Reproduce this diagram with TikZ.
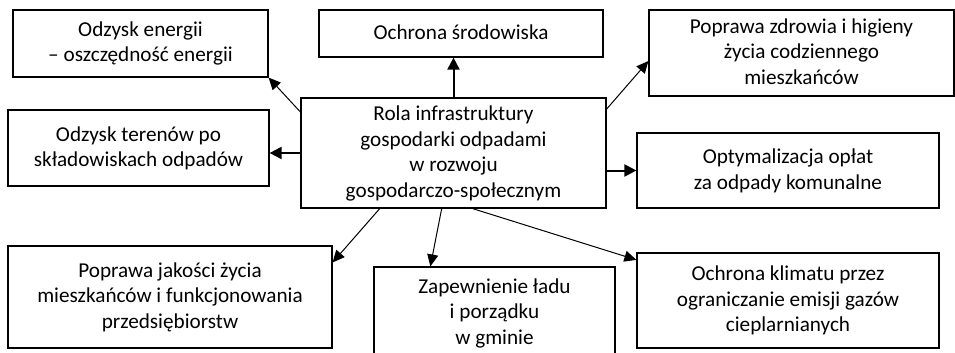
\documentclass[tikz,border=0pt]{standalone}
\usepackage{fontspec}
\setmainfont{Carlito}
\usetikzlibrary{arrows.meta}

\begin{document}
\begin{tikzpicture}[x=1pt,y=-1pt,
            box/.style={draw, line width=1.2pt, align=center, inner sep=0pt, font=\fontsize{21.2}{25.5}\selectfont, text height=18.5pt, text depth=7pt},
            tworows/.style={box, text height=44pt},
            threerows/.style={box, text height=69.5pt},
            fourrows/.style={box, text height=95pt},
            link/.style={-{Triangle[length=12pt,width=11pt]}, line width=1pt},
            mainlink/.style={-{Triangle[length=12pt,width=12pt]}, line width=2pt}]
            \clip (0,0) rectangle (955,353);
            \node[fourrows, minimum width=305pt, minimum height=110pt] (cen) at (453.5,153) {Rola infrastruktury\\gospodarki odpadami\\w rozwoju\\gospodarczo-społecznym};
            \node[tworows, minimum width=255pt, minimum height=67pt] (energia) at (140.5,43.5) {Odzysk energii\\– oszczędność energii};
            \node[box, minimum width=284pt, minimum height=47pt] (srodowisko) at (461,33.5) {Ochrona środowiska};
            \node[threerows, minimum width=305pt, minimum height=86pt] (zdrowie) at (801.5,53) {Poprawa zdrowia i higieny\\życia codziennego\\mieszkańców};
            \node[tworows, minimum width=261pt, minimum height=76pt] (tereny) at (138.5,148) {Odzysk terenów po\\składowiskach odpadów};
            \node[tworows, minimum width=302pt, minimum height=75pt] (oplaty) at (788,170.5) {Optymalizacja opłat\\za odpady komunalne};
            \node[threerows, minimum width=324pt, minimum height=102pt] (jakosc) at (170,297) {Poprawa jakości życia\\mieszkańców i funkcjonowania\\przedsiębiorstw};
            \node[threerows, minimum width=241pt, minimum height=92pt] (lad) at (494.5,313) {Zapewnienie ładu\\i porządku\\w gminie};
            \node[threerows, minimum width=302pt, minimum height=95pt] (klimat) at (788,300.5) {Ochrona klimatu przez\\ograniczanie emisji gazów\\cieplarnianych};
            \draw[link] (cen.165) -- (energia.south east);
            \draw[mainlink] (cen.north) -- (cen.north |- srodowisko.south);
            \draw[link] (cen.16) -- (zdrowie.183);
            \draw[mainlink] (cen.west) -- (cen.west -| tereny.east);
            \draw[mainlink] (oplaty.west -| cen.east) -- (oplaty.west);
            \draw[link] (cen.217) -- (jakosc.12);
            \draw[link] (cen.258) -- (lad.144);
            \draw[link] (cen.289) -- (klimat.165);
        \end{tikzpicture}
\end{document}
